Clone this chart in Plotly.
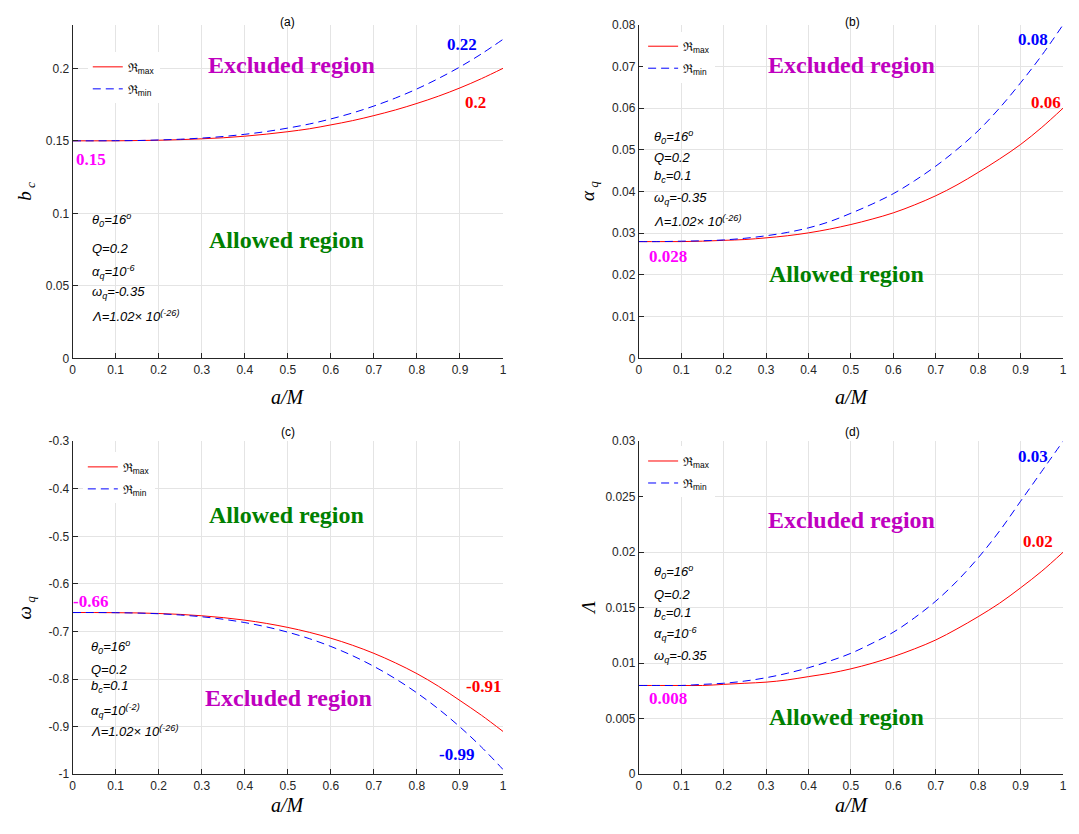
import plotly.graph_objects as go

# ---------------- data ----------------
a_over_M = [0.00, 0.05, 0.10, 0.15, 0.20, 0.25, 0.30, 0.35, 0.40, 0.45, 0.50,
            0.55, 0.60, 0.65, 0.70, 0.75, 0.80, 0.85, 0.90, 0.95, 1.00]

bc_max = [0.1500, 0.1500, 0.1500, 0.1502, 0.1504, 0.1508, 0.1514, 0.1521, 0.1532, 0.1546, 0.1563,
          0.1583, 0.1610, 0.1639, 0.1674, 0.1713, 0.1758, 0.1808, 0.1865, 0.1929, 0.2000]
bc_min = [0.1500, 0.1500, 0.1501, 0.1502, 0.1506, 0.1511, 0.1519, 0.1530, 0.1545, 0.1564, 0.1588,
          0.1616, 0.1651, 0.1692, 0.1740, 0.1795, 0.1858, 0.1930, 0.2010, 0.2100, 0.2200]

alpha_max = [0.0280, 0.0280, 0.0280, 0.0281, 0.0283, 0.0285, 0.0289, 0.0294, 0.0301, 0.0310, 0.0321,
             0.0334, 0.0349, 0.0368, 0.0390, 0.0416, 0.0446, 0.0478, 0.0513, 0.0554, 0.0600]
alpha_min = [0.0280, 0.0280, 0.0281, 0.0282, 0.0284, 0.0288, 0.0294, 0.0302, 0.0313, 0.0328, 0.0348,
             0.0370, 0.0395, 0.0426, 0.0461, 0.0501, 0.0546, 0.0600, 0.0661, 0.0727, 0.0800]

omega_max = [-0.6600, -0.6600, -0.6603, -0.6608, -0.6620, -0.6639, -0.6668, -0.6707, -0.6760, -0.6828, -0.6913,
             -0.7016, -0.7140, -0.7287, -0.7458, -0.7658, -0.7885, -0.8150, -0.8450, -0.8760, -0.9100]
omega_min = [-0.6600, -0.6600, -0.6603, -0.6611, -0.6626, -0.6652, -0.6689, -0.6741, -0.6811, -0.6901, -0.7013,
             -0.7149, -0.7313, -0.7506, -0.7732, -0.7992, -0.8290, -0.8627, -0.9006, -0.9429, -0.9900]

lambda_max = [0.0080, 0.0080, 0.0080, 0.0080, 0.0081, 0.0082, 0.0083, 0.0085, 0.0088, 0.0091, 0.0095,
              0.0100, 0.0106, 0.0113, 0.0121, 0.0131, 0.0142, 0.0154, 0.0168, 0.0183, 0.0200]
lambda_min = [0.0080, 0.0080, 0.0080, 0.0081, 0.0082, 0.0084, 0.0087, 0.0091, 0.0096, 0.0102, 0.0109,
              0.0118, 0.0128, 0.0141, 0.0156, 0.0174, 0.0195, 0.0219, 0.0246, 0.0273, 0.0300]

x_ticks = [0, 0.1, 0.2, 0.3, 0.4, 0.5, 0.6, 0.7, 0.8, 0.9, 1]
x_ticktext = ["0", "0.1", "0.2", "0.3", "0.4", "0.5", "0.6", "0.7", "0.8", "0.9", "1"]
ya_ticks = [0, 0.05, 0.1, 0.15, 0.2]
ya_text = ["0", "0.05", "0.1", "0.15", "0.2"]
yb_ticks = [0, 0.01, 0.02, 0.03, 0.04, 0.05, 0.06, 0.07, 0.08]
yb_text = ["0", "0.01", "0.02", "0.03", "0.04", "0.05", "0.06", "0.07", "0.08"]
yc_ticks = [-1, -0.9, -0.8, -0.7, -0.6, -0.5, -0.4, -0.3]
yc_text = ["-1", "-0.9", "-0.8", "-0.7", "-0.6", "-0.5", "-0.4", "-0.3"]
yd_ticks = [0, 0.005, 0.01, 0.015, 0.02, 0.025, 0.03]
yd_text = ["0", "0.005", "0.01", "0.015", "0.02", "0.025", "0.03"]

panel_titles = ["(a)", "(b)", "(c)", "(d)"]
legend_names = ["ℜ<sub>max</sub>", "ℜ<sub>min</sub>"]

# ---------------- styling ----------------
OFF = 8                                  # default margin of the html body
W, H = 1079 - 2 * OFF, 834 - 2 * OFF     # keep the page inside the window
RED, BLUE = "#ff0000", "#0000ff"
MAG_BIG, MAG_SMALL, GREEN = "#bf00bf", "#ff00ff", "#008000"
AX_COL = "#262626"
GRID = "#e4e4e4"
SANS = "Liberation Sans, Arial, sans-serif"
SERIF = "Liberation Serif, Times New Roman, serif"

def px_x(p):
    return (p - OFF) / W

def px_y(p):
    return 1 - (p - OFF) / H

xdom_left = [px_x(70), px_x(503.3)]
xdom_right = [px_x(640), px_x(1067)]
ydom_top = [px_y(357.3), px_y(18)]
ydom_bot = [px_y(780.5), px_y(441.7)]

fig = go.Figure()

series = [
    (bc_max, bc_min, "x", "y", "legend"),
    (alpha_max, alpha_min, "x2", "y2", "legend2"),
    (omega_max, omega_min, "x3", "y3", "legend3"),
    (lambda_max, lambda_min, "x4", "y4", "legend4"),
]
for i, (ymax, ymin, xa, ya, lg) in enumerate(series):
    fig.add_trace(go.Scatter(x=a_over_M, y=ymax, mode="lines", name=legend_names[0],
                             line=dict(color=RED, width=1, shape="spline"),
                             legendgroup=f"max{i}",
                             xaxis=xa, yaxis=ya, legend=lg))
    fig.add_trace(go.Scatter(x=a_over_M, y=ymin, mode="lines", name=legend_names[1],
                             line=dict(color=BLUE, width=1, dash="8px,5px", shape="spline"),
                             legendgroup=f"min{i}",
                             xaxis=xa, yaxis=ya, legend=lg))

def xaxis(dom, anchor):
    return dict(domain=dom, anchor=anchor, range=[0, 1], tickvals=x_ticks, ticktext=x_ticktext,
                showgrid=True, gridcolor=GRID, gridwidth=1, zeroline=False,
                showline=True, linecolor=AX_COL, linewidth=1, ticks="inside", ticklen=5,
                tickcolor=AX_COL, tickfont=dict(family=SANS, size=12, color=AX_COL),
                ticklabeloverflow="allow", mirror=False)

def yaxis(dom, anchor, rng, tv, tt):
    return dict(domain=dom, anchor=anchor, range=rng, tickvals=tv, ticktext=tt,
                showgrid=True, gridcolor=GRID, gridwidth=1, zeroline=False,
                showline=True, linecolor=AX_COL, linewidth=1, ticks="inside", ticklen=5,
                tickcolor=AX_COL, tickfont=dict(family=SANS, size=12, color=AX_COL),
                ticklabeloverflow="allow")

legend_common = dict(bgcolor="white", borderwidth=0, font=dict(family=SANS, size=12, color="#000000"),
                     xanchor="left", yanchor="top", itemwidth=30, tracegroupgap=3)

fig.update_layout(
    width=W, height=H, margin=dict(l=0, r=0, t=0, b=0),
    paper_bgcolor="white", plot_bgcolor="white", showlegend=True,
    xaxis=xaxis(xdom_left, "y"), yaxis=yaxis(ydom_top, "x", [0, 0.23], ya_ticks, ya_text),
    xaxis2=xaxis(xdom_right, "y2"), yaxis2=yaxis(ydom_top, "x2", [0, 0.08], yb_ticks, yb_text),
    xaxis3=xaxis(xdom_left, "y3"), yaxis3=yaxis(ydom_bot, "x3", [-1, -0.3], yc_ticks, yc_text),
    xaxis4=xaxis(xdom_right, "y4"), yaxis4=yaxis(ydom_bot, "x4", [0, 0.03], yd_ticks, yd_text),
    legend=dict(legend_common, x=px_x(85.3), y=px_y(46)),
    legend2=dict(legend_common, x=px_x(644.3), y=px_y(25)),
    legend3=dict(legend_common, x=px_x(80.3), y=px_y(453)),
    legend4=dict(legend_common, x=px_x(644.3), y=px_y(447)),
)

ann = []

def txt(text, x, y, xref, yref, color, size, family, xanchor="center", bold=False, italic=False):
    t = text
    if italic:
        t = "<i>" + t + "</i>"
    if bold:
        t = "<b>" + t + "</b>"
    ann.append(dict(text=t, x=x, y=y, xref=xref, yref=yref, showarrow=False,
                    xanchor=xanchor, yanchor="middle",
                    font=dict(color=color, size=size, family=family)))

# panel titles
for title, xc, yc in zip(panel_titles, [286.6, 855, 286.6, 855], [15, 15, 432, 432]):
    txt(title, px_x(xc), px_y(yc), "paper", "paper", "#000000", 12, SANS)

# axis titles
for xc, yc in [(286.6, 397), (855, 397), (286.6, 812), (855, 812)]:
    txt("a/M", px_x(xc), px_y(yc), "paper", "paper", "#000000", 20, SERIF, italic=True)

ylabels = [("b<sub> c</sub>", 23, 187), ("α<sub> q</sub>", 590, 187),
           ("ω<sub> q</sub>", 23, 611), ("Λ", 590, 611)]
for t, xc, yc in ylabels:
    ann.append(dict(text="<i>" + t + "</i>", x=px_x(xc), y=px_y(yc), xref="paper", yref="paper",
                    showarrow=False, textangle=-90, xanchor="center", yanchor="middle",
                    font=dict(color="#000000", size=19, family=SERIF)))

# ---- panel (a)
txt("Excluded region", 0.508, 0.2022, "x", "y", MAG_BIG, 24, SERIF, bold=True)
txt("Allowed region", 0.496, 0.0814, "x", "y", GREEN, 24, SERIF, bold=True)
txt("0.22", 0.905, 0.2164, "x", "y", BLUE, 17, SERIF, bold=True)
txt("0.2", 0.935, 0.1764, "x", "y", RED, 17, SERIF, bold=True)
txt("0.15", 0.042, 0.137, "x", "y", MAG_SMALL, 17, SERIF, bold=True)
params_a = ["θ<sub>0</sub>=16<sup>o</sup>", "Q=0.2", "α<sub>q</sub>=10<sup>-6</sup>",
            "ω<sub>q</sub>=-0.35", "Λ=1.02× 10<sup>(-26)</sup>"]
for t, yv in zip(params_a, [0.0951, 0.0760, 0.0597, 0.0455, 0.0292]):
    txt(t, 0.040, yv, "x", "y", "#000000", 13, SANS, xanchor="left", italic=True)

# ---- panel (b)
txt("Excluded region", 0.501, 0.0703, "x2", "y2", MAG_BIG, 24, SERIF, bold=True)
txt("Allowed region", 0.489, 0.0202, "x2", "y2", GREEN, 24, SERIF, bold=True)
txt("0.08", 0.930, 0.0764, "x2", "y2", BLUE, 17, SERIF, bold=True)
txt("0.06", 0.960, 0.0613, "x2", "y2", RED, 17, SERIF, bold=True)
txt("0.028", 0.069, 0.0245, "x2", "y2", MAG_SMALL, 17, SERIF, bold=True)
params_b = ["θ<sub>0</sub>=16<sup>o</sup>", "Q=0.2", "b<sub>c</sub>=0.1",
            "ω<sub>q</sub>=-0.35", "Λ=1.02× 10<sup>(-26)</sup>"]
for t, yv in zip(params_b, [0.0530, 0.0481, 0.0437, 0.0384, 0.0329]):
    txt(t, 0.032, yv, "x2", "y2", "#000000", 13, SANS, xanchor="left", italic=True)

# ---- panel (c)
txt("Allowed region", 0.496, -0.4546, "x3", "y3", GREEN, 24, SERIF, bold=True)
txt("Excluded region", 0.501, -0.840, "x3", "y3", MAG_BIG, 24, SERIF, bold=True)
txt("-0.66", 0.042, -0.636, "x3", "y3", MAG_SMALL, 17, SERIF, bold=True)
txt("-0.91", 0.955, -0.815, "x3", "y3", RED, 17, SERIF, bold=True)
txt("-0.99", 0.891, -0.958, "x3", "y3", BLUE, 17, SERIF, bold=True)
params_c = ["θ<sub>0</sub>=16<sup>o</sup>", "Q=0.2", "b<sub>c</sub>=0.1",
            "α<sub>q</sub>=10<sup>(-2)</sup>", "Λ=1.02× 10<sup>(-26)</sup>"]
for t, yv in zip(params_c, [-0.733, -0.780, -0.815, -0.867, -0.910]):
    txt(t, 0.039, yv, "x3", "y3", "#000000", 13, SANS, xanchor="left", italic=True)

# ---- panel (d)
txt("Excluded region", 0.501, 0.0229, "x4", "y4", MAG_BIG, 24, SERIF, bold=True)
txt("Allowed region", 0.489, 0.00515, "x4", "y4", GREEN, 24, SERIF, bold=True)
txt("0.03", 0.930, 0.0286, "x4", "y4", BLUE, 17, SERIF, bold=True)
txt("0.02", 0.942, 0.0210, "x4", "y4", RED, 17, SERIF, bold=True)
txt("0.008", 0.069, 0.00683, "x4", "y4", MAG_SMALL, 17, SERIF, bold=True)
params_d = ["θ<sub>0</sub>=16<sup>o</sup>", "Q=0.2", "b<sub>c</sub>=0.1",
            "α<sub>q</sub>=10<sup>-6</sup>", "ω<sub>q</sub>=-0.35"]
for t, yv in zip(params_d, [0.0182, 0.01624, 0.01447, 0.0126, 0.01065]):
    txt(t, 0.032, yv, "x4", "y4", "#000000", 13, SANS, xanchor="left", italic=True)

fig.update_layout(annotations=ann)
fig.write_html("out.html")
